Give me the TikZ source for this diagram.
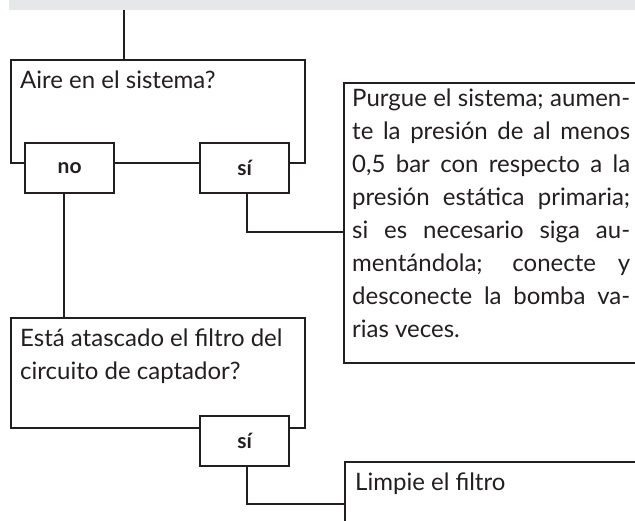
\documentclass[tikz,border=0pt]{standalone}
\usepackage{fontspec}
\setmainfont{Lato}
\usetikzlibrary{positioning}
\definecolor{inkgray}{HTML}{231F20}
\definecolor{bandgray}{HTML}{E6E7E8}

\begin{document}
\begin{tikzpicture}[x=1pt,y=-1pt,font=\fontsize{24}{33}\selectfont,
  frame/.style={draw=inkgray,line width=2.3pt,inner sep=0pt,anchor=north west},
  answer/.style={frame,fill=white,minimum width=89pt,minimum height=50pt,font=\fontsize{21}{22}\selectfont\bfseries,text=inkgray},
  txt/.style={anchor=base west,inner sep=0pt,text=inkgray,align=left},
  link/.style={draw=inkgray,line width=2.3pt}]
\clip (0,0) rectangle (635,520);
\fill[bandgray] (9,0) rectangle (635,10);
\coordinate (entry) at (124,10);
% first question
\node[frame,minimum width=294pt,minimum height=103pt] (aire) at (10,59) {};
\node[txt] (airetxt) at (20,88) {Aire en el sistema?};
\node[answer] (no1) at (24,142) {no};
\node[answer] (si1) at (199,142) {sí};
\node[frame,minimum width=320pt,minimum height=280pt] (purga) at (343,82) {};
\node[txt,anchor=north west,text width=278pt,align=justify] (purgatxt) at (352,89)
  {Purgue el sistema; aumen-\linebreak te la presión de al menos\linebreak 0,5 bar con respecto a la\linebreak presión estática primaria;\linebreak si es necesario siga au-\linebreak mentándola; conecte y\linebreak desconecte la bomba va-\linebreak rias veces.};
% second question
\node[frame,minimum width=294pt,minimum height=110pt] (filtro) at (10,317) {};
\node[txt,anchor=north west] (filtrotxt) at (20,329) {Está atascado el filtro del\\circuito de captador?};
\node[answer] (si2) at (199,415) {sí};
\node[frame,minimum width=320pt,minimum height=84pt] (limpie) at (344,461) {};
\node[txt] (limpietxt) at (355,490) {Limpie el filtro};
\draw[link] (entry) -- (entry |- aire.north);
\draw[link] ([xshift=-6pt]no1.south) -- ([xshift=-6pt]no1.south |- filtro.north);
\draw[link] ([xshift=2pt]si1.south) |- ([yshift=-9pt]purga.west);
\draw[link] ([xshift=2pt]si2.south) |- (limpie.west);
\end{tikzpicture}
\end{document}
